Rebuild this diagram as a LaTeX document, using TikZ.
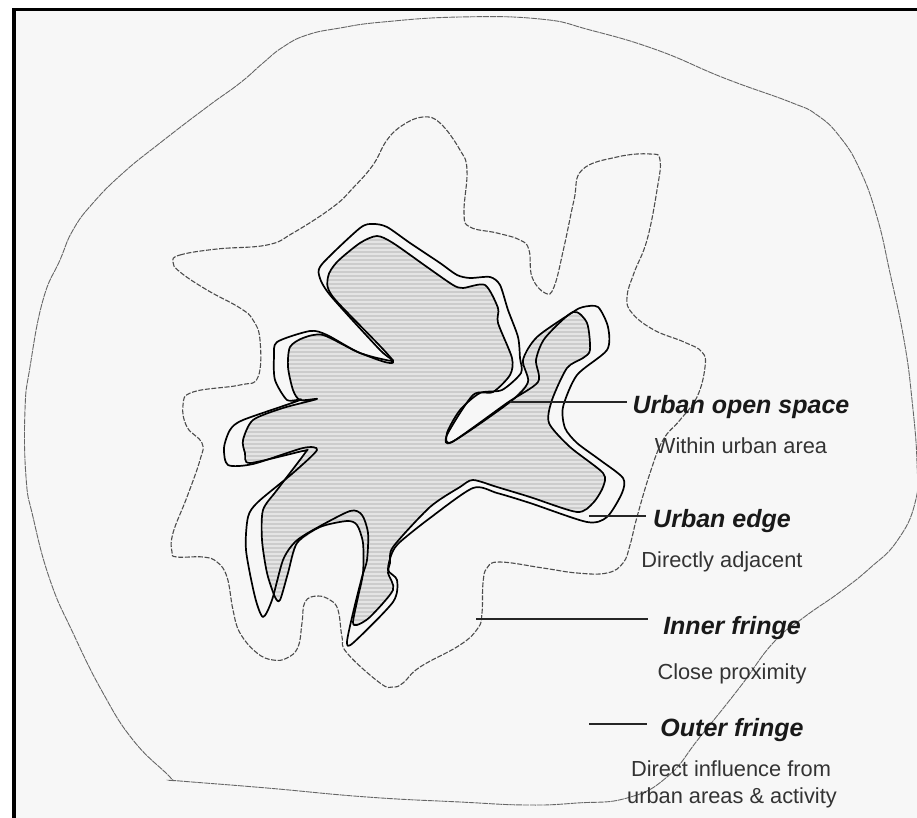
\documentclass[tikz,border=0pt]{standalone}
\usepackage{fontspec}
\setmainfont{Liberation Sans}
\definecolor{paper}{HTML}{F7F7F7}
\definecolor{stripeA}{HTML}{E4E4E4}
\definecolor{stripeB}{HTML}{CCCCCC}
\newcommand{\urbanstripes}{
  \fill[stripeA] (200,220) rectangle (620,640);
  \foreach \y in {220,224,...,640}{
    \draw[stripeB,line width=1.6pt] (200,\y) -- (620,\y);
  }
}
\tikzset{
  zone/.style={font=\fontsize{25}{28}\selectfont\bfseries\itshape,text=black!90,anchor=base,inner sep=5pt},
  note/.style={font=\fontsize{21.8}{26}\selectfont,text=black!80,anchor=base,inner sep=0pt},
  leader/.style={draw=black!85,line width=1.1pt},
  edgeline/.style={draw=black,line width=1.7pt,line join=round},
  innerline/.style={draw=black!70,line width=1.1pt,dash pattern=on 5pt off 1.6pt},
  outerline/.style={draw=black!60,line width=.9pt,dash pattern=on 6pt off .8pt}
}
\begin{document}
\begin{tikzpicture}[x=1pt,y=-1pt]
  \useasboundingbox (0,0) rectangle (917,818);
  \fill[black] (12,8) rectangle (917,818);
  \fill[paper] (16,11) rectangle (917,818);
  % built-up area
  \path[save path=\urbanpath] plot[smooth cycle,tension=.45] coordinates {
    (377,236) (393,243) (427,267) (453,285) (463,288) (485,285) (498,308) (498,323) (512,358) (510,375)
    (493,392) (473,395) (447,435) (452,442) (507,403) (538,382) (536,360) (545,338) (573,312) (587,323)
    (590,350) (583,358) (567,368) (552,400) (549,423) (570,447) (603,473) (603,487) (593,503) (577,512)
    (530,497) (497,487) (473,480) (460,487) (430,507) (393,547) (390,563) (388,573) (393,590) (370,617)
    (357,625) (353,622) (358,597) (363,573) (363,543) (357,525) (347,521) (320,527) (297,543) (288,573)
    (280,600) (275,597) (267,573) (262,540) (263,510) (277,490) (305,453) (303,451) (250,463) (245,453)
    (243,440) (253,420) (283,408) (317,399) (300,400) (293,390) (288,367) (290,347) (303,338) (323,335)
    (360,353) (393,361) (333,297) (328,277) (337,262) (360,243)};
  \begin{scope}
    \clip[use path=\urbanpath];
    \urbanstripes
  \end{scope}
  \begin{scope}
    \clip (452,442) -- (510,402) -- (528,382) -- (523,360) -- (537,337) -- (573,312) -- (545,338) -- (536,360) -- (538,382) -- (507,403) -- cycle;
    \urbanstripes
  \end{scope}
  \begin{scope}
    \clip (272,600) -- (283,560) -- (295,542) -- (313,530) -- (320,527) -- (297,543) -- (288,573) -- (280,600) -- (275,597) -- cycle;
    \urbanstripes
  \end{scope}
  \draw[edgeline,use path=\urbanpath];
  % urban edge
  \draw[edgeline] plot[smooth cycle,tension=.45] coordinates {
    (373,224) (387,227) (410,243) (440,263) (457,275) (470,278) (490,277) (500,285) (508,310) (518,337)
    (520,358) (521,373) (502,390) (480,393) (460,410) (447,433) (452,442) (510,402) (528,382) (523,360)
    (537,337) (573,312) (583,307) (598,307) (608,327) (607,350) (577,375) (563,407) (565,428) (577,443)
    (600,460) (623,478) (622,493) (607,517) (587,522) (530,503) (497,493) (473,488) (430,518) (400,542)
    (392,553) (388,570) (397,580) (393,602) (353,643) (347,642) (353,613) (362,577) (367,560) (368,533)
    (362,515) (350,511) (313,530) (295,542) (283,560) (272,600) (263,617) (255,597) (246,550) (248,517)
    (258,502) (293,473) (317,450) (303,448) (253,464) (228,465) (224,448) (230,430) (243,420) (300,400)
    (287,400) (275,380) (274,357) (277,342) (310,331) (327,335) (360,353) (393,361) (380,350) (330,295)
    (319,275) (323,263) (360,228)};
  % inner fringe
  \draw[innerline] plot[smooth cycle,tension=.7] coordinates {
    (173,262) (180,255) (217,249) (267,245) (293,233) (333,207) (353,188) (373,165) (387,140) (403,125)
    (423,117) (440,123) (460,150) (467,170) (464,213) (470,227) (497,233) (520,240) (529,250) (532,277)
    (545,293) (554,287) (564,247) (574,200) (582,170) (617,157) (650,154) (660,160) (657,190) (647,240)
    (634,273) (627,297) (632,313) (654,330) (684,342) (702,352) (705,367) (697,397) (680,420) (663,440)
    (650,473) (637,517) (630,545) (623,563) (607,573) (577,573) (543,568) (500,562) (487,568) (483,583)
    (482,613) (478,628) (460,645) (420,667) (403,683) (393,687) (380,683) (347,653) (342,637) (338,610)
    (330,600) (317,596) (305,602) (302,623) (298,647) (287,658) (273,660) (257,653) (240,633) (233,610)
    (227,577) (217,562) (203,557) (177,557) (172,552) (173,533) (187,497) (200,460) (202,443) (187,427)
    (183,405) (193,392) (240,385) (258,377) (260,340) (253,320) (240,308) (207,290) (180,272)};
  % outer fringe
  \draw[outerline] plot[smooth cycle,tension=.8] coordinates {
    (460,17) (540,19) (590,30) (657,50) (724,78) (790,102) (817,115) (840,137) (860,170) (877,217)
    (890,273) (904,340) (912,400) (917,463) (915,503) (897,541) (870,568) (840,592) (803,618) (773,643)
    (740,687) (700,737) (667,777) (627,798) (577,803) (527,805) (460,802) (367,797) (267,788) (180,781)
    (173,780) (167,774) (133,740) (103,693) (73,633) (50,580) (33,517) (26,477) (25,410) (30,367) (43,300) (60,260)
    (73,230) (93,203) (123,173) (160,143) (207,107) (240,83) (263,63) (283,47) (307,35) (340,28) (383,22)};
  % labels
  \node[zone] (openspace) at (741,413) {Urban open space};
  \node[note] (openspacenote) at (741,453) {Within urban area};
  \node[zone] (edge) at (722,527) {Urban edge};
  \node[note] (edgenote) at (722,567) {Directly adjacent};
  \node[zone] (inner) at (732,634) {Inner fringe};
  \node[note] (innernote) at (732,679) {Close proximity};
  \node[zone] (outer) at (732,736) {Outer fringe};
  \node[note] (outernote) at (731,776) {Direct influence from};
  \node[note] (outernotetwo) at (732,803) {urban areas \& activity};
  % leaders
  \coordinate (openspaceend) at (510,402);
  \coordinate (edgeend) at (589,516);
  \coordinate (innerend) at (476,619);
  \coordinate (outerend) at (589,724);
  \draw[leader] (openspaceend) -- (openspaceend -| openspace.west);
  \draw[leader,shorten >=2pt] (edgeend) -- (edgeend -| edge.west);
  \draw[leader,shorten >=10pt] (innerend) -- (innerend -| inner.west);
  \draw[leader,shorten >=8pt] (outerend) -- (outerend -| outer.west);
\end{tikzpicture}
\end{document}
